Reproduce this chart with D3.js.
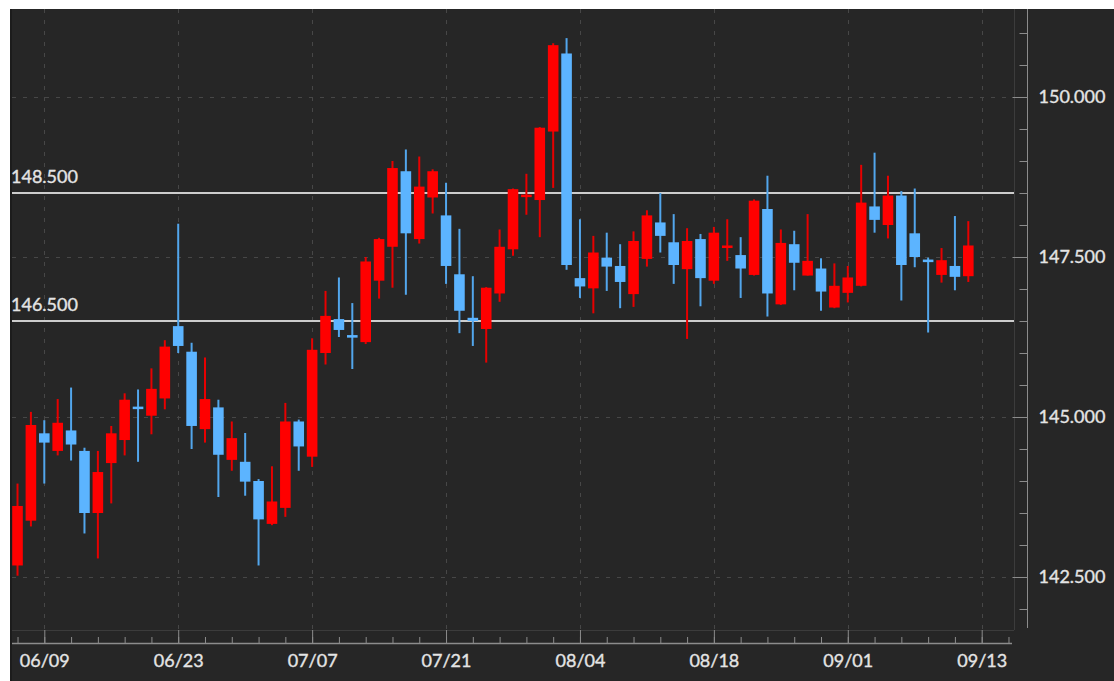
<!DOCTYPE html>
<html><head><meta charset="utf-8">
<script src="https://cdn.jsdelivr.net/npm/d3@7"></script>
<style>html,body{margin:0;padding:0;background:#fff;overflow:hidden}</style>
</head><body><svg id="c" width="1114" height="681"></svg>
<script>
const dates = ["06/05","06/06","06/09","06/10","06/11","06/12","06/13","06/16","06/17","06/18","06/19","06/20","06/23","06/24","06/25","06/26","06/27","06/30",
"07/01","07/02","07/03","07/04","07/07","07/08","07/09","07/10","07/11","07/14","07/15","07/16","07/17","07/18","07/21","07/22","07/23","07/24","07/25","07/28","07/29","07/30","07/31",
"08/01","08/04","08/05","08/06","08/07","08/08","08/11","08/12","08/13","08/14","08/15","08/18","08/19","08/20","08/21","08/22","08/25","08/26","08/27","08/28","08/29",
"09/01","09/02","09/03","09/04","09/05","09/08","09/09","09/10","09/11","09/12"];
const open  = [142.68,143.38,144.745,144.47,144.79,144.47,143.50,144.28,144.64,145.16,145.02,145.29,146.42,146.02,144.81,145.15,144.33,144.30,144.00,143.33,143.58,144.93,144.38,146.00,146.53,146.28,146.17,147.13,147.66,148.84,147.78,148.43,148.15,147.23,146.55,146.375,146.93,147.62,148.44,148.39,149.46,150.68,147.17,147.01,147.49,147.36,146.92,147.47,148.04,147.73,147.31,147.78,147.13,147.64,147.53,147.22,148.25,146.76,147.70,147.21,147.32,146.71,146.94,147.05,148.29,148.00,148.46,147.87,147.46,147.22,147.36,147.20];
const high  = [143.96,145.08,144.95,145.28,145.46,144.52,144.47,144.86,145.37,145.43,145.76,146.20,148.02,146.16,145.93,145.27,144.93,144.75,144.03,144.23,145.22,144.96,146.23,146.97,147.18,146.78,147.50,147.80,149.00,149.18,149.07,148.87,148.66,147.94,147.20,147.03,147.93,148.57,148.80,149.53,150.84,150.92,148.09,147.83,147.88,147.70,147.90,148.23,148.50,148.17,147.95,147.86,147.97,148.09,147.81,148.40,148.77,147.93,147.91,148.17,147.48,147.40,147.36,148.94,149.13,148.77,148.53,148.57,147.49,147.64,148.14,148.06];
const low   = [142.52,143.29,143.96,144.40,144.32,143.18,142.79,143.65,144.40,144.30,144.73,145.12,146.00,144.50,144.60,143.75,144.16,143.77,142.68,143.31,143.44,144.16,144.22,145.82,146.25,145.75,146.14,146.85,147.02,146.91,147.71,148.18,147.08,146.31,146.11,145.85,146.80,147.52,148.16,147.81,148.58,147.30,146.86,146.62,146.97,146.70,146.72,147.35,147.57,147.08,146.22,146.73,147.08,147.44,146.86,147.21,146.57,146.75,146.98,147.21,146.66,146.70,146.79,147.04,147.88,147.79,146.82,147.34,146.32,147.10,146.98,147.11];
const close = [143.61,144.875,144.60,144.91,144.57,143.50,144.14,144.745,145.27,145.125,145.44,146.10,146.11,144.86,145.28,144.41,144.67,143.99,143.40,143.68,144.93,144.54,146.05,146.58,146.36,146.24,147.43,147.78,148.89,147.87,148.60,148.84,147.36,146.66,146.50,147.02,147.66,148.56,148.47,149.52,150.81,147.375,147.04,147.57,147.35,147.11,147.75,148.15,147.83,147.375,147.75,147.17,147.88,147.68,147.32,148.38,146.93,147.72,147.41,147.44,146.96,147.05,147.18,148.35,148.08,148.46,147.375,147.50,147.42,147.45,147.19,147.68];
const xTickIdx = [2,12,22,32,42,52,62,72];
const xTickLabels = ["06/09","06/23","07/07","07/21","08/04","08/18","09/01","09/13"];
const yTicks = [142.5,145,147.5,150];
const yMinorTicks = [142,142.5,143,143.5,144,144.5,145,145.5,146,146.5,147,147.5,148,148.5,149,149.5,150,150.5,151];
const levels = [148.5,146.5];

const UP = "#ff0000", DOWN = "#5cb4ff", UPW = "#e80000", DOWNW = "#52a6ec";
const FONT = "Lato, 'Open Sans', sans-serif";
const svg = d3.select("#c");
const L = 10, T = 9, R = 1014, B = 630, AX = 1028, XAY = 644;

const x = d3.scaleLinear().domain([2, 72]).range([44.3, 981.7]);
const y = d3.scaleLinear().domain([142.5, 150]).range([577, 97]);

svg.append("rect").attr("x", L).attr("y", T).attr("width", 1114 - L).attr("height", 681 - T).attr("fill", "#262626");
svg.append("line").attr("x1", L + 1).attr("x2", L + 1).attr("y1", T).attr("y2", 681).attr("stroke", "#1c1c1c").attr("stroke-width", 2);

// grid
const grid = svg.append("g").attr("stroke", "#474747").attr("stroke-width", 1).attr("stroke-dasharray", "4,7");
grid.selectAll("line.h").data(yTicks).join("line").attr("class", "h")
  .attr("x1", L + 2).attr("x2", R).attr("y1", d => Math.round(y(d)) + 0.5).attr("y2", d => Math.round(y(d)) + 0.5);
grid.selectAll("line.v").data(xTickIdx).join("line").attr("class", "v")
  .attr("y1", T).attr("y2", B).attr("x1", d => Math.round(x(d)) + 0.5).attr("x2", d => Math.round(x(d)) + 0.5);

// plot borders
svg.append("line").attr("x1", L + 2).attr("x2", R).attr("y1", B + 0.5).attr("y2", B + 0.5).attr("stroke", "#3c3c3c");
svg.append("line").attr("x1", R + 0.5).attr("x2", R + 0.5).attr("y1", T).attr("y2", B).attr("stroke", "#3c3c3c");

// levels
svg.append("g").selectAll("line").data(levels).join("line")
  .attr("x1", L + 2).attr("x2", R).attr("y1", d => y(d)).attr("y2", d => y(d))
  .attr("stroke", "#cdcdcd").attr("stroke-width", 2.2);
svg.append("g").selectAll("text").data(levels).join("text")
  .attr("x", 11).attr("y", d => y(d) - 10).text(d => d3.format(".3f")(d))
  .attr("fill", "#e4e4e4").attr("stroke", "#e4e4e4").attr("stroke-width", 0.35)
  .attr("font-family", FONT).attr("font-size", 18);

// candles
const idx = d3.range(dates.length);
const bw = 10.6;
const cg = svg.append("g");
cg.selectAll("line").data(idx).join("line")
  .attr("x1", i => x(i)).attr("x2", i => x(i)).attr("y1", i => y(high[i])).attr("y2", i => y(low[i]))
  .attr("stroke", i => close[i] >= open[i] ? UPW : DOWNW).attr("stroke-width", 2);
cg.selectAll("rect").data(idx).join("rect")
  .attr("x", i => x(i) - bw / 2).attr("width", bw)
  .attr("y", i => { const t = y(Math.max(open[i], close[i])), b = y(Math.min(open[i], close[i])); return b - t < 2.5 ? (t + b) / 2 - 1.25 : t; })
  .attr("height", i => Math.max(2.5, Math.abs(y(open[i]) - y(close[i]))))
  .attr("fill", i => close[i] >= open[i] ? UP : DOWN);

// right axis
const axisColor = "#8c8c8c";
svg.append("line").attr("x1", AX - 0.5).attr("x2", AX - 0.5).attr("y1", T).attr("y2", B - 2).attr("stroke", axisColor);
const yMinor = svg.append("g").attr("transform", `translate(${AX - 0.5},0)`)
  .call(d3.axisLeft(y).tickValues(yMinorTicks).tickSize(8).tickFormat(""));
const yMajor = svg.append("g").attr("transform", `translate(${AX - 0.5},0)`)
  .call(d3.axisRight(y).tickValues(yTicks).tickSize(-15).tickPadding(11).tickFormat(d3.format(".3f")));
[yMinor, yMajor].forEach(g => { g.select(".domain").remove(); g.selectAll("line").attr("stroke", axisColor); });
yMajor.selectAll("text").attr("fill", "#e4e4e4").attr("stroke", "#e4e4e4").attr("stroke-width", 0.35)
  .attr("font-family", FONT).attr("font-size", 18);

// bottom axis
svg.append("line").attr("x1", L + 2).attr("x2", 1012).attr("y1", XAY - 0.5).attr("y2", XAY - 0.5).attr("stroke", axisColor).attr("stroke-width", 1.5);
const xMinorVals = d3.range(0, 75, 2);
const xMinor = svg.append("g").attr("transform", `translate(0,${XAY})`)
  .call(d3.axisTop(x).tickValues(xMinorVals).tickSize(7).tickFormat(""));
const xMajor = svg.append("g").attr("transform", `translate(0,${XAY})`)
  .call(d3.axisBottom(x).tickValues(xTickIdx).tickSize(-14).tickPadding(10).tickFormat((d, i) => xTickLabels[i]));
[xMinor, xMajor].forEach(g => { g.select(".domain").remove(); g.selectAll("line").attr("stroke", axisColor); });
xMajor.selectAll("text").attr("fill", "#e4e4e4").attr("stroke", "#e4e4e4").attr("stroke-width", 0.35)
  .attr("font-family", FONT).attr("font-size", 18);
</script></body></html>
